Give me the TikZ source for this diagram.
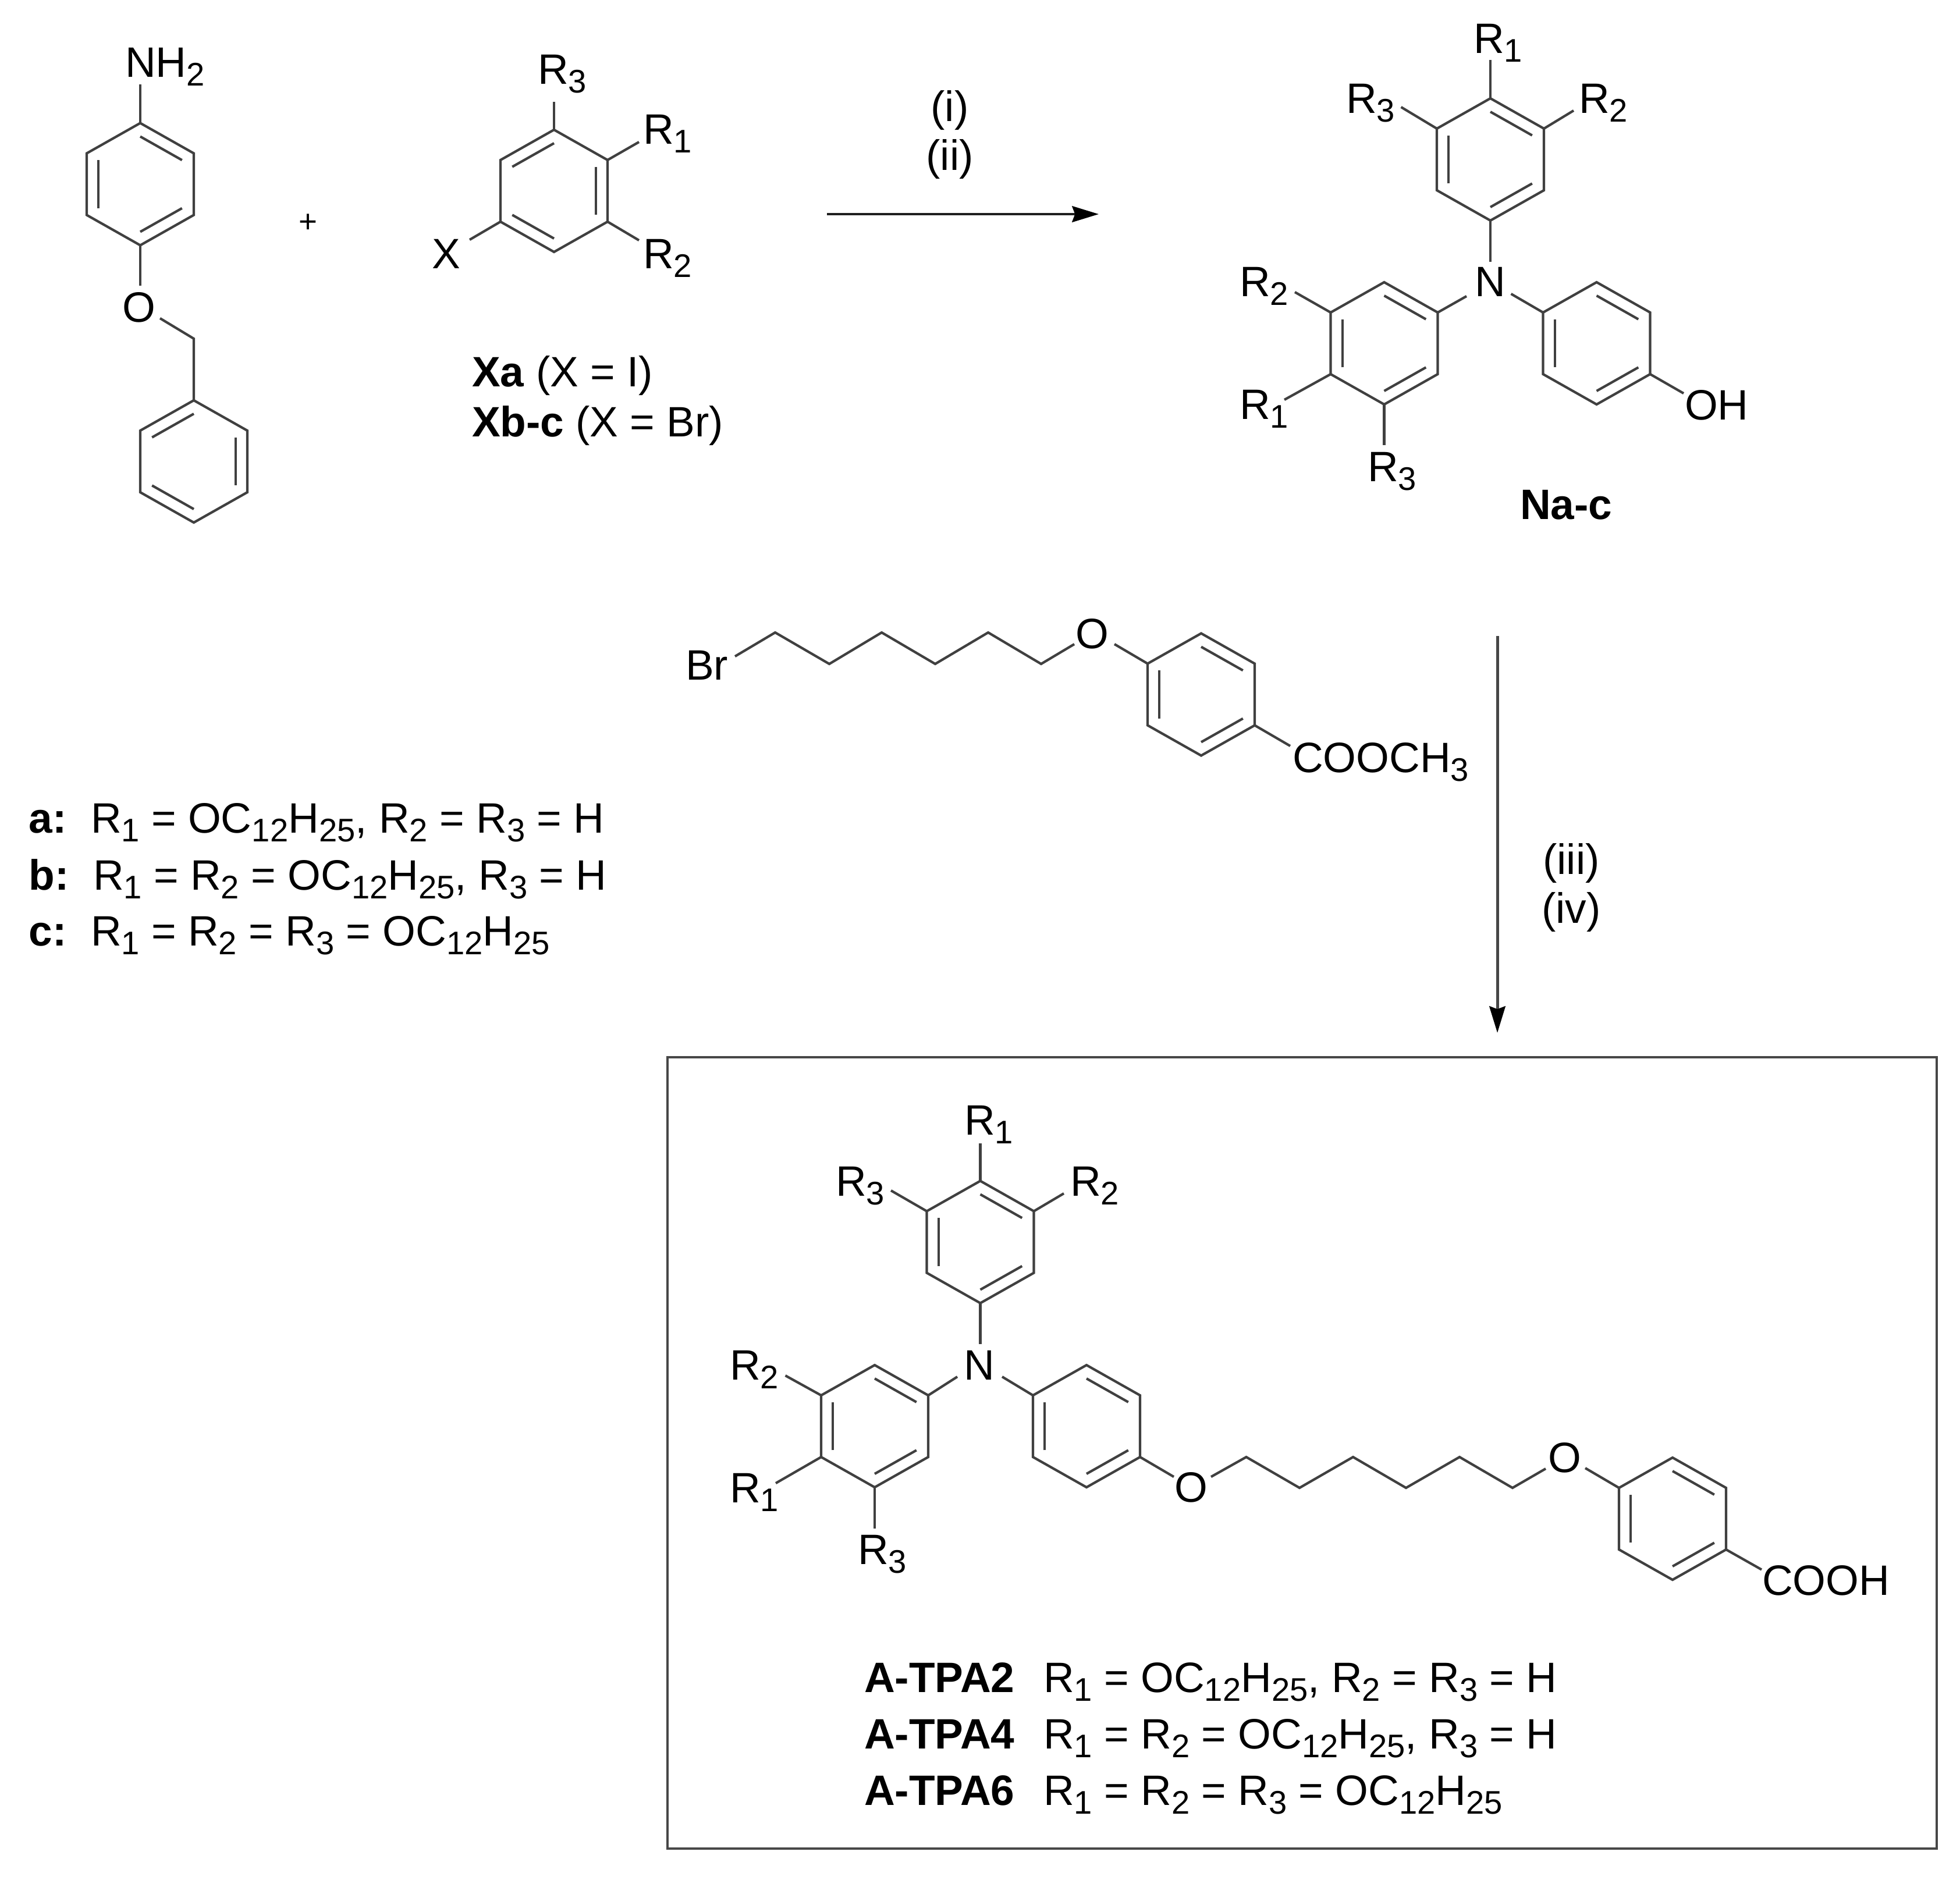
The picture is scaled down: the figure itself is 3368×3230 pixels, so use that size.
\documentclass[tikz,border=0pt]{standalone}
\usepackage{fontspec}
\setmainfont{Liberation Sans}
\usetikzlibrary{calc,arrows.meta}
\newcommand{\sbs}[1]{\raisebox{-2.2pt}{\fontsize{8}{9}\selectfont #1}}
\newcommand{\Ra}{R\sbs{1}}
\newcommand{\Rb}{R\sbs{2}}
\newcommand{\Rc}{R\sbs{3}}
\newcommand{\Alk}{OC\sbs{12}H\sbs{25}}
% ring: name, cx, cy, and the three double bonds given as pairs of vertex numbers
\newcommand{\hexring}[9]{%
  \coordinate (#1c) at (#2,#3);
  \coordinate (#11) at ({#2},{#3-105});
  \coordinate (#12) at ({#2+92},{#3-53});
  \coordinate (#13) at ({#2+92},{#3+53});
  \coordinate (#14) at ({#2},{#3+105});
  \coordinate (#15) at ({#2-92},{#3+53});
  \coordinate (#16) at ({#2-92},{#3-53});
  \draw[bondline] (#11) -- (#12) -- (#13) -- (#14) -- (#15) -- (#16) -- cycle;
  \draw[bondline] ($(#1c)!0.78!(#1#4)$) -- ($(#1c)!0.78!(#1#5)$);
  \draw[bondline] ($(#1c)!0.78!(#1#6)$) -- ($(#1c)!0.78!(#1#7)$);
  \draw[bondline] ($(#1c)!0.78!(#1#8)$) -- ($(#1c)!0.78!(#1#9)$);
}
% free bond end: coordinate name, x, y, ring vertex
\newcommand{\bd}[4]{\coordinate (#1) at (#2,#3); \draw[bondline] (#4) -- (#1);}
\tikzset{
  bondline/.style={draw=black!75,line width=0.6pt,line join=miter},
  lab/.style={anchor=base west,inner sep=0pt,outer sep=0pt,text=black,font=\fontsize{10.4}{12}\selectfont},
  labc/.style={anchor=base,inner sep=0pt,outer sep=0pt,text=black,font=\fontsize{10.4}{12}\selectfont},
  rxnone/.style={draw=black!88,line width=0.7pt,-{Stealth[length=6.5pt,width=3.9pt,inset=0.7pt,color=black]}},
  rxntwo/.style={draw=black!72,line width=0.7pt,-{Stealth[length=6.5pt,width=3.9pt,inset=0.7pt,color=black]}},
  framebox/.style={draw=black!72,line width=0.62pt}
}
\begin{document}
\begin{tikzpicture}[x=0.005cm,y=-0.005cm]
\useasboundingbox (0,0) rectangle (3368,3230);
\fill[white] (0,0) rectangle (3368,3230);

% --- amine
\hexring{A}{241}{316.5}{1}{2}{3}{4}{5}{6}
\hexring{B}{333}{793}{6}{1}{2}{3}{4}{5}
\node[lab] (nh2) at (215,132) {NH\sbs{2}};
\node[labc] (o1) at (238.5,553) {O};
\bd{a1}{241}{145}{A1}
\bd{a2}{241}{491}{A4}
\coordinate (a3) at (275,547);
\coordinate (ch2) at (333,582);
\draw[bondline] (a3) -- (ch2) -- (B1);
\node[labc] (plus) at (529,399) {\fontsize{7.8}{9}\selectfont +};

% --- aryl halide
\hexring{X}{952}{328}{6}{1}{2}{3}{4}{5}
\node[lab] (x3) at (924,144) {\Rc};
\node[lab] (x1) at (1105,247) {\Ra};
\node[lab] (x2) at (1105,461) {\Rb};
\node[labc] (xx) at (767,461) {X};
\bd{xb3}{952}{175}{X1}
\bd{xb1}{1098}{244}{X2}
\bd{xb2}{1098}{413}{X3}
\bd{xb4}{807}{412}{X5}
\node[lab] (xa) at (811,664) {\textbf{Xa} (X = I)};
\node[lab] (xbc) at (811,750) {\textbf{Xb-c} (X = Br)};

% --- arrow 1
\coordinate (ar1s) at (1421,368);
\coordinate (ar1e) at (1888,368);
\draw[rxnone] (ar1s) -- (ar1e);
\node[labc] (r1) at (1632,208) {(i)};
\node[labc] (r2) at (1632,292) {(ii)};

% --- Na-c
\hexring{N}{2561}{274}{1}{2}{3}{4}{5}{6}
\hexring{L}{2378.5}{590}{1}{2}{3}{4}{5}{6}
\hexring{Q}{2743.5}{590}{1}{2}{3}{4}{5}{6}
\node[labc] (nn) at (2561,509) {N};
\node[lab] (n1) at (2532,91) {\Ra};
\node[lab] (n3) at (2313,194) {\Rc};
\node[lab] (n2) at (2713,194) {\Rb};
\node[lab] (l2) at (2130,509) {\Rb};
\node[lab] (l1) at (2130,720) {\Ra};
\node[lab] (l3) at (2350,827) {\Rc};
\node[lab] (oh) at (2895,721) {OH};
\node[lab] (nac) at (2612,892) {\textbf{Na-c}};
\bd{nb1}{2561}{103}{N1}
\bd{nb3}{2407.5}{184}{N6}
\bd{nb2}{2704}{190}{N2}
\bd{nb4}{2561}{450}{N4}
\bd{nb5}{2520}{509}{L2}
\bd{nb6}{2596.5}{505}{Q6}
\bd{lb2}{2225}{502}{L6}
\bd{lb1}{2207}{687}{L5}
\bd{lb3}{2378.5}{765}{L4}
\bd{qb1}{2893}{676}{Q3}

% --- bromide
\node[lab] (br) at (1178,1168) {Br};
\node[labc] (o2) at (1877,1114) {O};
\hexring{E}{2064}{1193.5}{1}{2}{3}{4}{5}{6}
\node[lab] (cooch) at (2221,1327) {COOCH\sbs{3}};
\coordinate (c0) at (1263,1128);
\coordinate (c1) at (1332,1087);
\coordinate (c2) at (1425,1141);
\coordinate (c3) at (1515,1087);
\coordinate (c4) at (1607,1141);
\coordinate (c5) at (1698,1087);
\coordinate (c6) at (1789,1141);
\coordinate (c7) at (1846,1107);
\draw[bondline] (c0) -- (c1) -- (c2) -- (c3) -- (c4) -- (c5) -- (c6) -- (c7);
\bd{eb1}{1915}{1107}{E6}
\bd{eb2}{2217}{1282}{E3}

% --- legend
\node[lab] (la) at (50,1431) {\textbf{a:}};
\node[lab] (lat) at (156,1431) {\Ra{} = \Alk, \Rb{} = \Rc{} = H};
\node[lab] (lb) at (50,1529) {\textbf{b:}};
\node[lab] (lbt) at (160,1529) {\Ra{} = \Rb{} = \Alk, \Rc{} = H};
\node[lab] (lc) at (50,1625) {\textbf{c:}};
\node[lab] (lct) at (156,1625) {\Ra{} = \Rb{} = \Rc{} = \Alk};

% --- arrow 2
\coordinate (ar2s) at (2573,1093);
\coordinate (ar2e) at (2573,1775);
\draw[rxntwo] (ar2s) -- (ar2e);
\node[labc] (r3) at (2700,1502) {(iii)};
\node[labc] (r4) at (2700,1586) {(iv)};

% --- product box
\coordinate (bx1) at (1147,1817);
\coordinate (bx2) at (3328,3177);
\draw[framebox] (bx1) rectangle (bx2);
\hexring{P}{1684.5}{2134.5}{1}{2}{3}{4}{5}{6}
\hexring{S}{1503}{2451}{1}{2}{3}{4}{5}{6}
\hexring{T}{1867}{2451}{1}{2}{3}{4}{5}{6}
\hexring{U}{2874}{2610}{1}{2}{3}{4}{5}{6}
\node[labc] (pn) at (1683,2371) {N};
\node[lab] (p1) at (1657,1950) {\Ra};
\node[lab] (p3) at (1436,2055) {\Rc};
\node[lab] (p2) at (1839,2055) {\Rb};
\node[lab] (s2) at (1254,2371) {\Rb};
\node[lab] (s1) at (1254,2582) {\Ra};
\node[lab] (s3) at (1474,2688) {\Rc};
\node[labc] (po1) at (2047,2581) {O};
\node[labc] (po2) at (2688.5,2530) {O};
\node[lab] (cooh) at (3028,2741) {COOH};
\bd{pb1}{1684.5}{1965}{P1}
\bd{pb3}{1531}{2046}{P6}
\bd{pb2}{1828}{2051}{P2}
\bd{pb4}{1684.5}{2310}{P4}
\bd{pb5}{1645}{2366}{S2}
\bd{pb6}{1722}{2366}{T6}
\bd{sb2}{1349.5}{2364}{S6}
\bd{sb1}{1333}{2549}{S5}
\bd{sb3}{1503}{2627}{S4}
\bd{tb1}{2017}{2538}{T3}
\coordinate (d0) at (2081,2538);
\coordinate (d1) at (2141.5,2504);
\coordinate (d2) at (2233,2557);
\coordinate (d3) at (2325,2504);
\coordinate (d4) at (2416,2557);
\coordinate (d5) at (2508,2504);
\coordinate (d6) at (2599,2557);
\coordinate (d7) at (2656,2524);
\draw[bondline] (d0) -- (d1) -- (d2) -- (d3) -- (d4) -- (d5) -- (d6) -- (d7);
\bd{ub1}{2724}{2523}{U6}
\bd{ub2}{3027}{2697.5}{U3}

\node[lab] (t2) at (1485,2908) {\textbf{A-TPA2}};
\node[lab] (t4) at (1485,3005) {\textbf{A-TPA4}};
\node[lab] (t6) at (1485,3102) {\textbf{A-TPA6}};
\node[lab] (t2t) at (1793,2908) {\Ra{} = \Alk, \Rb{} = \Rc{} = H};
\node[lab] (t4t) at (1793,3005) {\Ra{} = \Rb{} = \Alk, \Rc{} = H};
\node[lab] (t6t) at (1793,3102) {\Ra{} = \Rb{} = \Rc{} = \Alk};
\end{tikzpicture}
\end{document}
